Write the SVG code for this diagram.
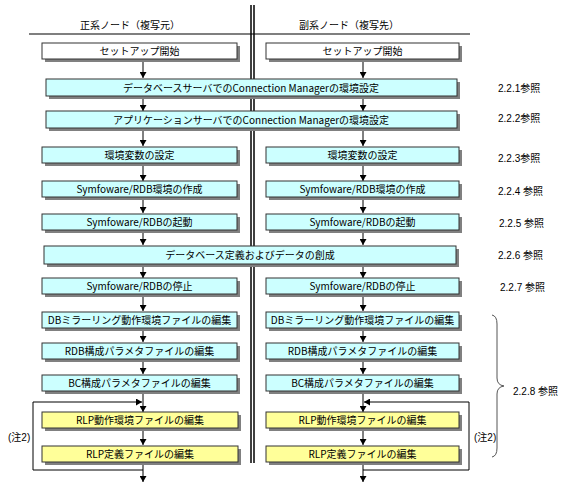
<svg xmlns="http://www.w3.org/2000/svg" width="566" height="485" viewBox="0 0 566 485">
<defs>
<style>
.w{fill:#ffffff;stroke:#333333;stroke-width:1}
.c{fill:#ccffff;stroke:#333333;stroke-width:1}
.y{fill:#ffff99;stroke:#333333;stroke-width:1}
.sh{fill:#808080}
.t{font-family:"Noto Sans CJK JP","Noto Sans CJK SC",sans-serif;font-size:10px;fill:#000;text-anchor:middle}
.r{font-family:"Liberation Sans","Noto Sans CJK JP",sans-serif;font-size:10px;fill:#000}
.ln{stroke:#000;stroke-width:1;fill:none}
</style>
<marker id="ah" markerWidth="7" markerHeight="7" refX="6" refY="3.5" orient="auto" markerUnits="userSpaceOnUse">
<path d="M0,0 L6,3.5 L0,7 Z" fill="#000"/>
</marker>
</defs>
<rect width="566" height="485" fill="#ffffff"/>

<g id="frame">
<line x1="251" y1="5" x2="251" y2="463" stroke="#000" stroke-width="1.5"/>
<line x1="254" y1="5" x2="254" y2="463" stroke="#000" stroke-width="1.5"/>
<line x1="29" y1="34" x2="470" y2="34" stroke="#000" stroke-width="1.2"/>
<text class="t" x="130" y="29">正系ノード（複写元）</text>
<text class="t" x="349" y="29">副系ノード（複写先）</text>
</g>

<g id="connectors">
<line class="ln" x1="143" y1="61" x2="143" y2="78" marker-end="url(#ah)"/>
<line class="ln" x1="363" y1="61" x2="363" y2="78" marker-end="url(#ah)"/>
<line class="ln" x1="143" y1="98" x2="143" y2="111" marker-end="url(#ah)"/>
<line class="ln" x1="363" y1="98" x2="363" y2="111" marker-end="url(#ah)"/>
<line class="ln" x1="143" y1="130" x2="143" y2="146" marker-end="url(#ah)"/>
<line class="ln" x1="363" y1="130" x2="363" y2="146" marker-end="url(#ah)"/>
<line class="ln" x1="143" y1="165" x2="143" y2="181" marker-end="url(#ah)"/>
<line class="ln" x1="363" y1="165" x2="363" y2="181" marker-end="url(#ah)"/>
<line class="ln" x1="143" y1="199" x2="143" y2="213" marker-end="url(#ah)"/>
<line class="ln" x1="363" y1="199" x2="363" y2="213" marker-end="url(#ah)"/>
<line class="ln" x1="143" y1="232" x2="143" y2="245" marker-end="url(#ah)"/>
<line class="ln" x1="363" y1="232" x2="363" y2="245" marker-end="url(#ah)"/>
<line class="ln" x1="143" y1="266" x2="143" y2="278" marker-end="url(#ah)"/>
<line class="ln" x1="363" y1="266" x2="363" y2="278" marker-end="url(#ah)"/>
<line class="ln" x1="143" y1="296" x2="143" y2="311" marker-end="url(#ah)"/>
<line class="ln" x1="363" y1="296" x2="363" y2="311" marker-end="url(#ah)"/>
<line class="ln" x1="143" y1="330" x2="143" y2="342" marker-end="url(#ah)"/>
<line class="ln" x1="363" y1="330" x2="363" y2="342" marker-end="url(#ah)"/>
<line class="ln" x1="143" y1="361" x2="143" y2="374" marker-end="url(#ah)"/>
<line class="ln" x1="363" y1="361" x2="363" y2="374" marker-end="url(#ah)"/>
<line class="ln" x1="143" y1="393" x2="143" y2="412" marker-end="url(#ah)"/>
<line class="ln" x1="363" y1="393" x2="363" y2="412" marker-end="url(#ah)"/>
<line class="ln" x1="143" y1="430" x2="143" y2="445" marker-end="url(#ah)"/>
<line class="ln" x1="363" y1="430" x2="363" y2="445" marker-end="url(#ah)"/>
<line class="ln" x1="143" y1="464" x2="143" y2="482" marker-end="url(#ah)"/>
<line class="ln" x1="363" y1="464" x2="363" y2="482" marker-end="url(#ah)"/>
<path class="ln" d="M143,470 H33 V402 H142" marker-end="url(#ah)"/>
<path class="ln" d="M363,470 H469 V402 H364" marker-end="url(#ah)"/>
<path d="M492,315 Q497,316 497,324 V378 Q497,385 504,386 Q497,387 497,394 V448 Q497,456 492,457" fill="none" stroke="#555" stroke-width="1"/>
</g>

<g id="n-start-p"><rect class="sh" x="45" y="46" width="195" height="16"/><rect class="w" x="42" y="43" width="195" height="16"/><text class="t" x="139.5" y="55">セットアップ開始</text></g>
<g id="n-start-s"><rect class="sh" x="269" y="46" width="193" height="16"/><rect class="w" x="266" y="43" width="193" height="16"/><text class="t" x="362.5" y="55">セットアップ開始</text></g>

<g id="n-dbcm"><rect class="sh" x="49" y="82" width="411" height="17"/><rect class="c" x="46" y="79" width="411" height="17"/><text class="t" x="251" y="91.5">データベースサーバでのConnection Managerの環境設定</text></g>
<g id="n-apcm"><rect class="sh" x="49" y="114" width="411" height="17"/><rect class="c" x="46" y="111" width="411" height="17"/><text class="t" x="251" y="123.5">アプリケーションサーバでのConnection Managerの環境設定</text></g>

<g id="n-env-p"><rect class="sh" x="45" y="150" width="195" height="16"/><rect class="c" x="42" y="147" width="195" height="16"/><text class="t" x="139.5" y="159">環境変数の設定</text></g>
<g id="n-env-s"><rect class="sh" x="269" y="150" width="193" height="16"/><rect class="c" x="266" y="147" width="193" height="16"/><text class="t" x="362.5" y="159">環境変数の設定</text></g>

<g id="n-mk-p"><rect class="sh" x="45" y="184" width="195" height="16"/><rect class="c" x="42" y="181" width="195" height="16"/><text class="t" x="139.5" y="193">Symfoware/RDB環境の作成</text></g>
<g id="n-mk-s"><rect class="sh" x="269" y="184" width="193" height="16"/><rect class="c" x="266" y="181" width="193" height="16"/><text class="t" x="362.5" y="193">Symfoware/RDB環境の作成</text></g>

<g id="n-start-rdb-p"><rect class="sh" x="45" y="217" width="195" height="16"/><rect class="c" x="42" y="214" width="195" height="16"/><text class="t" x="139.5" y="226">Symfoware/RDBの起動</text></g>
<g id="n-start-rdb-s"><rect class="sh" x="269" y="217" width="193" height="16"/><rect class="c" x="266" y="214" width="193" height="16"/><text class="t" x="362.5" y="226">Symfoware/RDBの起動</text></g>

<g id="n-dbdef"><rect class="sh" x="47" y="249" width="412" height="18"/><rect class="c" x="44" y="246" width="412" height="18"/><text class="t" x="250" y="259">データベース定義およびデータの創成</text></g>

<g id="n-stop-p"><rect class="sh" x="45" y="281" width="195" height="16"/><rect class="c" x="42" y="278" width="195" height="16"/><text class="t" x="139.5" y="290">Symfoware/RDBの停止</text></g>
<g id="n-stop-s"><rect class="sh" x="269" y="281" width="193" height="16"/><rect class="c" x="266" y="278" width="193" height="16"/><text class="t" x="362.5" y="290">Symfoware/RDBの停止</text></g>

<g id="n-mir-p"><rect class="sh" x="45" y="315" width="195" height="16"/><rect class="c" x="42" y="312" width="195" height="16"/><text class="t" x="139.5" y="324">DBミラーリング動作環境ファイルの編集</text></g>
<g id="n-mir-s"><rect class="sh" x="269" y="315" width="193" height="16"/><rect class="c" x="266" y="312" width="193" height="16"/><text class="t" x="362.5" y="324">DBミラーリング動作環境ファイルの編集</text></g>

<g id="n-rdbp-p"><rect class="sh" x="45" y="346" width="195" height="16"/><rect class="c" x="42" y="343" width="195" height="16"/><text class="t" x="139.5" y="355">RDB構成パラメタファイルの編集</text></g>
<g id="n-rdbp-s"><rect class="sh" x="269" y="346" width="193" height="16"/><rect class="c" x="266" y="343" width="193" height="16"/><text class="t" x="362.5" y="355">RDB構成パラメタファイルの編集</text></g>

<g id="n-bcp-p"><rect class="sh" x="45" y="378" width="195" height="16"/><rect class="c" x="42" y="375" width="195" height="16"/><text class="t" x="139.5" y="387">BC構成パラメタファイルの編集</text></g>
<g id="n-bcp-s"><rect class="sh" x="269" y="378" width="193" height="16"/><rect class="c" x="266" y="375" width="193" height="16"/><text class="t" x="362.5" y="387">BC構成パラメタファイルの編集</text></g>

<g id="n-rlpenv-p"><rect class="sh" x="45" y="415" width="196" height="16"/><rect class="y" x="42" y="412" width="196" height="16"/><text class="t" x="140" y="424">RLP動作環境ファイルの編集</text></g>
<g id="n-rlpenv-s"><rect class="sh" x="269" y="415" width="193" height="16"/><rect class="y" x="266" y="412" width="193" height="16"/><text class="t" x="362.5" y="424">RLP動作環境ファイルの編集</text></g>

<g id="n-rlpdef-p"><rect class="sh" x="45" y="449" width="196" height="16"/><rect class="y" x="42" y="446" width="196" height="16"/><text class="t" x="140" y="458">RLP定義ファイルの編集</text></g>
<g id="n-rlpdef-s"><rect class="sh" x="269" y="449" width="193" height="16"/><rect class="y" x="266" y="446" width="193" height="16"/><text class="t" x="362.5" y="458">RLP定義ファイルの編集</text></g>

<g id="labels">
<text class="r" x="498" y="92">2.2.1参照</text>
<text class="r" x="498" y="122">2.2.2参照</text>
<text class="r" x="498" y="162">2.2.3参照</text>
<text class="r" x="498" y="195">2.2.4 参照</text>
<text class="r" x="499" y="227">2.2.5 参照</text>
<text class="r" x="498" y="259">2.2.6 参照</text>
<text class="r" x="500" y="291">2.2.7 参照</text>
<text class="r" x="513" y="395">2.2.8 参照</text>
<text class="r" x="8" y="441">(注2)</text>
<text class="r" x="474" y="441">(注2)</text>
</g>
</svg>
